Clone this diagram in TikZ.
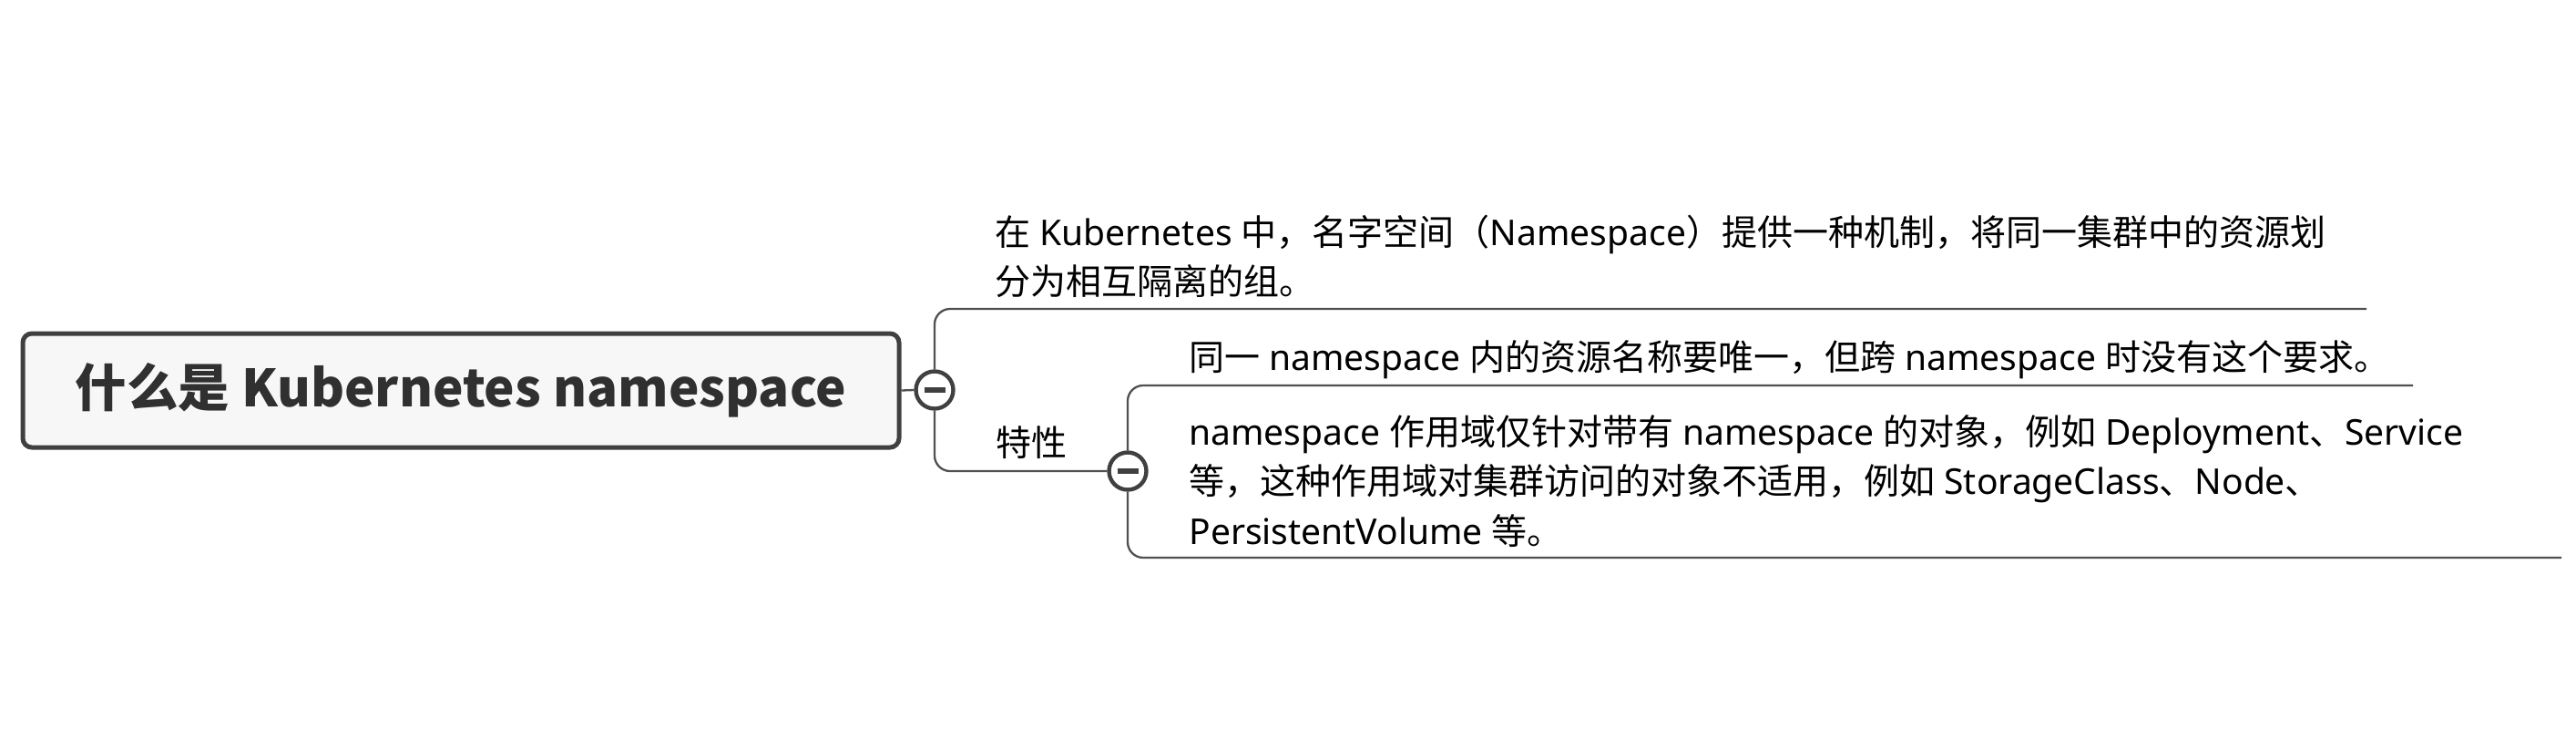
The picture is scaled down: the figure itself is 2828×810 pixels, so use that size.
\documentclass[tikz,border=0pt]{standalone}
\usepackage{fontspec}
\setmainfont{Noto Sans}
\newfontfamily\cjk{Noto Sans CJK SC}
\usetikzlibrary{backgrounds}
\definecolor{linec}{HTML}{505050}
\definecolor{boxc}{HTML}{404040}
\definecolor{boxfill}{HTML}{F7F7F7}
\definecolor{rootc}{HTML}{303030}
\begin{document}
\begin{tikzpicture}[x=0.5pt,y=-0.5pt,
  branch/.style={draw=linec, line width=1.15pt, rounded corners=8.5pt},
  rootbox/.style={draw=boxc, fill=boxfill, line width=2.5pt, rounded corners=5pt,
    minimum width=481pt, minimum height=62.5pt, inner sep=0pt, text=rootc,
    font=\cjk\fontsize{28.2pt}{34pt}\selectfont\bfseries},
  toggle/.style={circle, draw=boxc, fill=white, line width=2.2pt,
    minimum size=20.5pt, inner sep=0pt},
  minus/.style={draw=boxc, line width=3pt},
  topic/.style={inner sep=0pt, anchor=base west, align=left, text=black,
    font=\fontsize{19.5pt}{27.25pt}\selectfont}
]
\useasboundingbox (0,0) rectangle (2828,810);

% root topic
\node[rootbox] (root) at (506,428.5) {什么是 Kubernetes namespace};

% collapse toggles
\node[toggle] (c1) at (1026,428) {};
\node[toggle] (c2) at (1238,517) {};
\draw[minus] (c1.center) ++(-11.5,0) -- ++(23,0);
\draw[minus] (c2.center) ++(-11.5,0) -- ++(23,0);

% topics (base anchor = baseline of last line)
\node[topic] (t1) at (1092,323.5) {{\cjk 在} Kubernetes {\cjk 中，名字空间（}Namespace{\cjk ）提供一种机制，将同一集群中的资源划}\\{\cjk 分为相互隔离的组。}};
\node[topic] (t2) at (1093,500) {\cjk 特性};
\node[topic] (t3) at (1305,406) {{\cjk 同一} namespace {\cjk 内的资源名称要唯一，但跨} namespace {\cjk 时没有这个要求。}};
\node[topic] (t4) at (1305,597) {namespace {\cjk 作用域仅针对带有} namespace {\cjk 的对象，例如} Deployment{\cjk 、}Service\\{\cjk 等，这种作用域对集群访问的对象不适用，例如} StorageClass{\cjk 、}Node{\cjk 、}\\PersistentVolume {\cjk 等。}};

% line ends
\coordinate (e1) at (2598,339);
\coordinate (e3) at (2649,423);
\coordinate (e4) at (2812,612);

\begin{scope}[on background layer]
  \draw[branch] (root.east) -- (c1.west);
  \draw[branch] (c1.north) |- (e1);
  \draw[branch] (c1.south) |- (c2.west);
  \draw[branch] (c2.north) |- (e3);
  \draw[branch] (c2.south) |- (e4);
\end{scope}
\end{tikzpicture}
\end{document}
